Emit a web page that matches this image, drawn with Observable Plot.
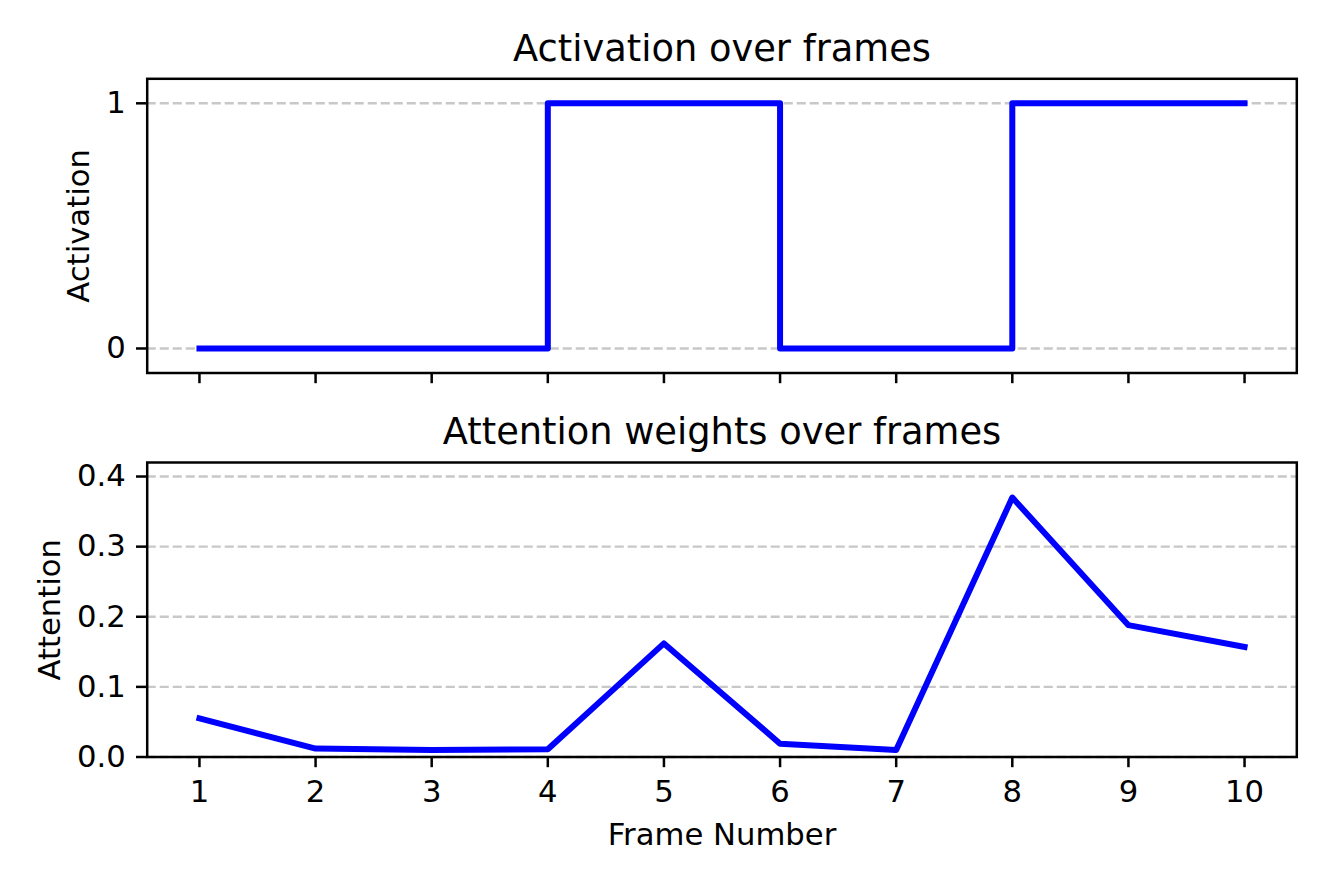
<!DOCTYPE html>
<html>
<head>
<meta charset="utf-8">
<script src="https://cdn.jsdelivr.net/npm/d3@7"></script>
<script src="https://cdn.jsdelivr.net/npm/@observablehq/plot@0.6"></script>
<style>
  html, body { margin: 0; padding: 0; background: white; }
  #chart { position: relative; width: 1329px; height: 886px; background: white; }
  #chart > div, #chart > svg { position: absolute; left: 0; }
</style>
</head>
<body>
<div id="chart"></div>
<script>
// ---- data ----
const frames = [1, 2, 3, 4, 5, 6, 7, 8, 9, 10];
const activation = [0, 0, 0, 0, 1, 1, 0, 0, 1, 1];
const attention = [0.055, 0.012, 0.010, 0.011, 0.162, 0.019, 0.010, 0.370, 0.188, 0.157];
const xTicks = [1, 2, 3, 4, 5, 6, 7, 8, 9, 10];
const activationTicks = [0, 1];
const attentionTicks = [0.0, 0.1, 0.2, 0.3, 0.4];
const titles = ["Activation over frames", "Attention weights over frames"];
const yLabels = ["Activation", "Attention"];
const xLabel = "Frame Number";

const actData = frames.map((f, i) => ({frame: f, value: activation[i]}));
const attData = frames.map((f, i) => ({frame: f, value: attention[i]}));

const FONT = "DejaVu Sans, sans-serif";
const TICK_FS = 30.7;
const TITLE_FS = 36.8;
const W = 1329;
const ML = 146.7, MR = 1329 - 1296.3;
const gridStyle = {stroke: "#c8c8c8", strokeOpacity: 1, strokeWidth: 2.4, strokeDasharray: "9.1,3.9"};
const lineStyle = {stroke: "#0000ff", strokeWidth: 6, strokeLinecap: "square", strokeLinejoin: "round"};
const xDomain = [0.55, 10.45];

const container = document.getElementById("chart");

// ---- top panel ----
const topPanel = Plot.plot({
  width: W,
  height: 420,
  marginTop: 78.3,
  marginBottom: 420 - 372.5,
  marginLeft: ML,
  marginRight: MR,
  style: {fontFamily: FONT, fontSize: TICK_FS + "px", background: "white", color: "black", overflow: "visible"},
  x: {domain: xDomain},
  y: {domain: [-0.1, 1.1]},
  marks: [
    Plot.gridY({ticks: activationTicks, ...gridStyle}),
    Plot.line(actData, {x: "frame", y: "value", curve: "step-before", ...lineStyle}),
    Plot.frame({stroke: "black", strokeWidth: 2.5}),
    Plot.axisY({ticks: activationTicks, tickFormat: d3.format("d"), tickSize: 10.7, tickPadding: 10.8, strokeWidth: 2.5, fontSize: TICK_FS, label: null}),
    Plot.axisX({ticks: xTicks, tickFormat: () => "", tickSize: 10.7, strokeWidth: 2.5, label: null}),
    Plot.text([titles[0]], {text: d => d, frameAnchor: "top", lineAnchor: "bottom", dy: -18.3, fontSize: TITLE_FS, fill: "black"}),
    Plot.text([yLabels[0]], {text: d => d, frameAnchor: "left", rotate: -90, lineAnchor: "bottom", textAnchor: "middle", dx: -58.7, fontSize: TICK_FS, fill: "black"})
  ]
});
topPanel.style.top = "0px";
container.appendChild(topPanel);

// ---- bottom panel ----
const bottomPanel = Plot.plot({
  width: W,
  height: 466,
  marginTop: 42,
  marginBottom: 129.5,
  marginLeft: ML,
  marginRight: MR,
  style: {fontFamily: FONT, fontSize: TICK_FS + "px", background: "white", color: "black", overflow: "visible"},
  x: {domain: xDomain},
  y: {domain: [0, 0.42]},
  marks: [
    Plot.gridY({ticks: attentionTicks, ...gridStyle}),
    Plot.line(attData, {x: "frame", y: "value", ...lineStyle}),
    Plot.frame({stroke: "black", strokeWidth: 2.5}),
    Plot.axisY({ticks: attentionTicks, tickFormat: d3.format(".1f"), tickSize: 10.7, tickPadding: 10.8, strokeWidth: 2.5, fontSize: TICK_FS, label: null}),
    Plot.axisX({ticks: xTicks, tickFormat: d3.format("d"), tickSize: 10.7, tickPadding: 12.7, strokeWidth: 2.5, fontSize: TICK_FS, label: null}),
    Plot.text([titles[1]], {text: d => d, frameAnchor: "top", lineAnchor: "bottom", dy: -18.5, fontSize: TITLE_FS, fill: "black"}),
    Plot.text([yLabels[1]], {text: d => d, frameAnchor: "left", rotate: -90, lineAnchor: "bottom", textAnchor: "middle", dx: -87.4, fontSize: TICK_FS, fill: "black"}),
    Plot.text([xLabel], {text: d => d, frameAnchor: "bottom", lineAnchor: "bottom", dy: 87.5, fontSize: TICK_FS, fill: "black"})
  ]
});
bottomPanel.style.top = "420px";
container.appendChild(bottomPanel);
</script>
</body>
</html>
